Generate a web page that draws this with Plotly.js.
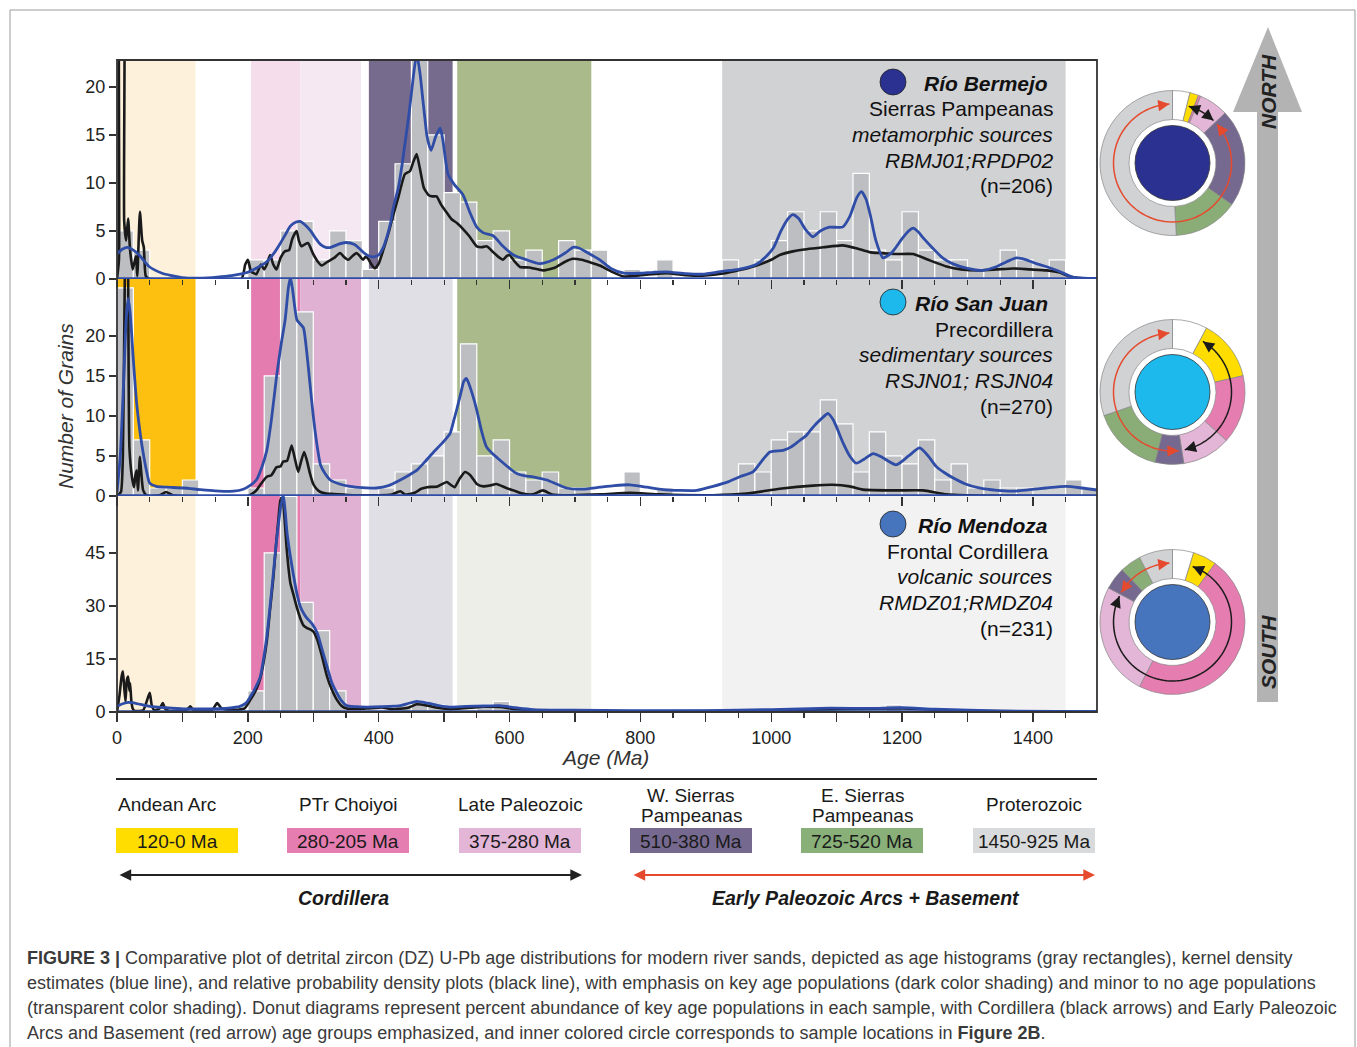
<!DOCTYPE html>
<html>
<head>
<meta charset="utf-8">
<script src="https://cdn.plot.ly/plotly-3.0.1.min.js"></script>
<style>
html,body{margin:0;padding:0;background:#ffffff;}
#chart{width:1357px;height:1047px;}
</style>
</head>
<body>
<div id="chart"></div>
<script>
// ================= DATA =================
const binWidth = 25;

// Age populations (Ma)
const groupNames = ['Andean Arc', 'PTr Choiyoi', 'Late Paleozoic', 'W. Sierras|Pampeanas', 'E. Sierras|Pampeanas', 'Proterozoic'];
const groupRanges = ['120-0 Ma', '280-205 Ma', '375-280 Ma', '510-380 Ma', '725-520 Ma', '1450-925 Ma'];
const bandStart = [0, 205, 280, 385, 520, 925];
const bandEnd = [120, 280, 373, 513, 725, 1450];
// 1 = key population (dark shading), 0 = minor (transparent shading)
const emphasis1 = [0, 0, 0, 1, 1, 1];
const emphasis2 = [1, 1, 1, 0, 1, 1];
const emphasis3 = [0, 1, 1, 0, 0, 0];

// Histograms: bin start age (Ma) and number of grains
const binStart1 = [0,25,200,225,250,275,300,325,350,375,400,425,450,475,500,525,550,575,600,625,675,700,725,775,825,925,975,1000,1025,1050,1075,1100,1125,1150,1175,1200,1225,1250,1275,1300,1325,1350,1375,1400,1425];
const count1    = [5,3,2,2,5,6,2,5,4,1,6,12,23,15,9,8,4,5,2,3,4,3,3,1,2,2,2,4,7,5,7,4,11,3,2,7,3,2,2,1,1,3,2,1,2];

const binStart2 = [0,25,50,75,100,200,225,250,275,300,325,350,400,425,450,475,500,525,550,575,600,625,650,675,700,775,825,950,975,1000,1025,1050,1075,1100,1125,1150,1175,1200,1225,1250,1275,1300,1325,1350,1375,1450,1475];
const count2    = [26,7,1,1,2,1,15,29,23,4,2,1,1,3,4,5,8,19,5,7,3,2,3,1,1,3,1,4,3,7,8,8,12,9,3,8,5,4,7,2,4,1,2,1,1,2,1];

const binStart3 = [200,225,250,275,300,325,425,450,475,550,575,1000,1075,1175];
const count3    = [6,45,61,31,23,6,2,3,2,2,3,1,1,2];

// Kernel density estimates (blue) [age, value]
const kde1 = [[0,2.6],[8,3.1],[16,3.3],[25,3.0],[34,2.5],[49,1.3],[69,0.6],[84,0.35],[100,0.15],[130,0.1],[153,0.2],[175,0.35],[188,0.5],[200,0.7],[215,1.2],[229,1.8],[240,2.7],[250,3.75],[258,4.7],[265,5.5],[273,5.9],[280,6.0],[288,5.6],[296,5.0],[304,4.2],[311,3.6],[319,3.3],[327,3.3],[338,3.6],[350,3.8],[363,3.6],[370,3.2],[378,2.7],[385,2.4],[392,2.3],[400,2.5],[407,3.3],[413,4.5],[418,5.8],[422,7.3],[430,9.5],[436,12],[441,14.5],[446,17],[452,20.5],[458,23.4],[463,21.5],[467,19],[471,16.5],[474,14.8],[480,13.4],[487,14.8],[494,15.7],[498,14.5],[502,12.5],[506,10.9],[516,9.8],[529,8.75],[539,7],[550,5.4],[560,4.8],[575,4.5],[590,3.4],[606,2.5],[626,2.0],[646,1.6],[667,2.0],[687,2.8],[697,3.3],[707,3.2],[720,2.7],[738,2.0],[755,1.1],[775,0.6],[800,0.6],[820,0.7],[840,0.75],[870,0.55],[895,0.5],[925,0.8],[950,1.0],[977,1.5],[990,2.2],[1003,3.2],[1015,5.0],[1025,6.2],[1033,6.7],[1042,6.3],[1052,5.2],[1064,4.4],[1075,5.0],[1089,5.4],[1109,5.4],[1120,6.5],[1131,8.5],[1138,9.1],[1145,8.3],[1152,6.5],[1160,4.0],[1171,2.2],[1185,2.8],[1200,4.2],[1210,5.0],[1217,5.3],[1225,4.9],[1232,4.3],[1247,3.2],[1262,2.2],[1277,1.6],[1300,1.1],[1323,0.9],[1345,1.3],[1360,1.8],[1375,2.2],[1390,2.0],[1405,1.6],[1420,1.3],[1440,0.8],[1461,0.2],[1498,0.05]];

const kde2 = [[0,0.5],[5,5],[10,14],[14,22],[17,24.7],[20,23],[25,17],[30,11.6],[36,7.5],[41,4.9],[46,2.8],[50,1.6],[60,1.2],[76,1.1],[102,1.0],[127,0.8],[150,0.65],[178,0.6],[193,0.85],[203,1.3],[213,2],[221,3.5],[229,5.7],[236,9.5],[244,15],[251,19],[257,22],[262,26],[265,27.3],[268,26],[275,22],[280,21.5],[285,21],[290,18],[295,14],[300,10],[306,6.2],[311,3.9],[318,2.8],[326,2.0],[340,1.5],[356,1.2],[375,1.05],[397,1.0],[415,1.3],[433,2.0],[446,2.6],[458,3.2],[471,4.3],[484,5.5],[497,6.6],[509,7.8],[515,9.5],[519,10.7],[526,13],[530,14.3],[534,14.7],[538,14],[544,12.5],[550,10.7],[557,8.2],[565,6.1],[575,5.2],[585,4.5],[598,3.6],[611,2.8],[624,2.5],[636,2.4],[647,2.2],[657,2.0],[672,1.5],[687,1.0],[712,0.85],[738,1.1],[760,1.3],[784,1.4],[810,1.1],[835,0.8],[860,0.7],[886,0.7],[911,1.2],[935,1.8],[952,2.4],[972,3.0],[985,4.3],[998,5.5],[1018,5.7],[1030,6.1],[1043,6.9],[1054,7.6],[1064,8.6],[1076,9.6],[1087,10.3],[1095,9.5],[1103,8.0],[1110,6.6],[1120,5.0],[1130,4.1],[1142,4.6],[1156,5.3],[1170,4.8],[1191,3.9],[1210,5.0],[1227,6.0],[1240,5.0],[1252,3.7],[1265,2.9],[1277,2.3],[1297,1.5],[1318,1.0],[1345,0.7],[1369,0.6],[1395,0.8],[1420,1.0],[1451,1.2],[1475,1.0],[1498,0.75]];

const kde3 = [[0,1.6],[10,2.4],[18,2.7],[30,2.4],[50,1.6],[75,1.2],[102,0.9],[140,0.9],[170,1.1],[188,1.6],[197,2.5],[204,4.4],[212,7],[219,10],[224,15],[229,21.4],[234,30],[239,39.3],[243,47],[247,53.5],[251,59],[254,61.5],[257,57],[260,50.6],[265,44],[270,38.4],[275,33.5],[280,29.9],[285,28],[290,26.6],[298,25],[306,22.4],[313,18],[321,12.9],[328,8.5],[336,5.4],[343,3.2],[351,1.8],[365,1.5],[382,1.4],[405,1.5],[433,1.8],[445,2.4],[458,3.0],[475,2.5],[490,1.9],[509,1.4],[534,1.6],[560,1.7],[585,1.8],[610,1.2],[636,0.7],[700,0.5],[780,0.4],[900,0.4],[1000,0.7],[1090,1.1],[1150,1.0],[1200,1.2],[1250,0.8],[1350,0.3],[1498,0.1]];

// Relative probability density plots (black) [age, value]
const pdp1 = [[0,0],[3,2],[6,40],[9,40],[11,6],[14,4],[17,6.3],[20,3],[24,1],[29,2.4],[31,0.3],[35,7],[38.5,4],[41,3.3],[44,0.3],[50,0],[190,0],[196,1.5],[200,2],[205,0.8],[213,0.5],[220,1.5],[225,1.0],[229,1.5],[234,2.5],[239,1.5],[244,1.0],[250,2.2],[257,2.9],[263,3.0],[268,4.2],[274.5,5],[278,4.0],[282,3.4],[287,3.6],[292,3.75],[300,2.6],[307,1.8],[313,1.4],[322,1.8],[332,2.2],[341,2.7],[347,2.3],[353.5,2.0],[360,2.4],[366,2.7],[371,2.4],[376,2.0],[380,2.3],[384,2.1],[389,1.5],[394,1.1],[400,1.6],[407,3],[415,4.8],[422,6.6],[430,8.5],[440,10.9],[448,11.25],[453,12.2],[458,13],[463,11.5],[469,9.5],[476,8.75],[482,8.6],[488.5,8.6],[495,7.8],[503,7.0],[511,6.25],[520,5.8],[529,5.2],[538,4.5],[550,3.4],[557,3.3],[565,3.4],[575,2.8],[585,2.2],[590,2.0],[596,2.4],[600,2.5],[608,1.8],[616,1.25],[630,1.2],[651.5,0.9],[670,1.2],[685,1.8],[697,2.1],[710,2.0],[725,1.7],[738,1.4],[755,0.8],[775,0.25],[800,0.4],[840,0.6],[870,0.4],[895,0.35],[930,0.6],[973,1.3],[1000,2.0],[1013,2.5],[1035,2.9],[1054,3.1],[1080,3.3],[1109,3.5],[1130,3.2],[1150,2.8],[1165,2.7],[1190,2.6],[1217,2.6],[1240,2.0],[1268,1.3],[1290,1.0],[1319,0.9],[1345,1.0],[1370,1.1],[1395,1.0],[1421,0.9],[1440,0.7],[1456,0.25],[1480,0.05],[1498,0]];

const pdp2 = [[0,0],[6,0.5],[9,5],[12,28],[15,40],[17,28],[19,6],[22.8,2.4],[26,1.1],[28,2.5],[30,3.2],[32,0.7],[35,4.9],[37,3],[40,0.7],[45,0.1],[50,0],[65,0.1],[75,0.5],[85,0.1],[200,0],[207,0.3],[213,0.7],[220,1.5],[229,2.4],[236,2.6],[244,3.6],[250,3.7],[254,4.3],[260,4.4],[264,5.5],[267,6.3],[271,5.0],[277,3.0],[281,4.2],[286,5.5],[290,4.5],[295,2.8],[300,1.5],[305,0.9],[311,0.5],[320,0.3],[331,0.25],[360,0.1],[400,0.1],[420,0.2],[433,0.6],[440,0.2],[455,0.4],[465,0.9],[474,1.1],[490,1.2],[504,1.75],[510,1.4],[516,1.1],[524,2.2],[532,3.0],[540,2.6],[550,1.5],[560,1.2],[570,1.3],[580,1.5],[595,1.0],[606,0.7],[620,0.3],[635,0.2],[651,0.7],[665,0.2],[690,0.1],[740,0.2],[784,0.4],[830,0.2],[911,0.1],[962,0.3],[1013,0.9],[1064,1.3],[1094,1.4],[1120,1.2],[1140,0.8],[1191,0.7],[1232,0.7],[1268,0.2],[1318,0.05],[1498,0]];

const pdp3 = [[0,0],[4,5],[7,10],[9,11.5],[11,7],[13,3],[15,9],[17,10],[19,6],[20,8.2],[22,3],[24,1],[27,0.3],[40,0.5],[50,5.4],[53,2],[57,0.5],[65,1],[70,2.5],[74,0.8],[80,0.3],[105,0.3],[112,1.6],[118,0.3],[145,0.5],[153,2.5],[160,1.0],[175,0.5],[195,1.0],[204,3.5],[212,6],[219,9.5],[224,14],[229,20],[234,29],[239,38],[243,47],[247,55],[250,60],[253,60.5],[256,55],[259,47],[262,41],[265,36.5],[270,33],[275,29.5],[280,26.6],[285,24.5],[290,23.8],[296,23.3],[300,22.8],[306,20.5],[313,16],[321,10.1],[328,6.5],[336,3.5],[343,1.8],[351,1.0],[365,0.9],[382,1.0],[405,1.3],[420,0.8],[445,1.2],[458,2.2],[475,1.8],[490,1.2],[509,0.8],[540,1.2],[560,1.5],[585,1.4],[610,0.8],[636,0.5],[700,0.3],[800,0.2],[1000,0.4],[1100,0.8],[1200,1.0],[1300,0.3],[1498,0]];

// Sample information
const sampleTitle = ['Río Bermejo', 'Río San Juan', 'Río Mendoza'];
const sampleRegion = ['Sierras Pampeanas', 'Precordillera', 'Frontal Cordillera'];
const sampleSource = ['metamorphic sources', 'sedimentary sources', 'volcanic sources'];
const sampleIds = ['RBMJ01;RPDP02', 'RSJN01; RSJN04', 'RMDZ01;RMDZ04'];
const sampleN = ['(n=206)', '(n=270)', '(n=231)'];

// Donut diagrams: share of each age population (degrees of the ring), in order
// [no key population, Andean Arc, PTr Choiyoi, Late Paleozoic, W. Sierras, E. Sierras, Proterozoic]
const donutLabels = ['Other', 'Andean Arc', 'PTr Choiyoi', 'Late Paleozoic', 'W. Sierras Pampeanas', 'E. Sierras Pampeanas', 'Proterozoic'];
const donut1 = [14, 7, 2, 23.5, 78.5, 52, 183];
const donut2 = [28, 49, 55, 39, 23, 57, 109];
const donut3 = [17, 19, 171, 91, 18, 17, 27];
// Arrow arcs (start/end angle, degrees clockwise from north): Cordillera (black), Early Paleozoic + Basement (red)
const cordilleraArc = [[16, 44], [31, 168], [20, 296]];
const basementArc = [[49, 357], [174, 357], [300, 357]];

// Axis ticks
const xTickVals = [0,100,200,300,400,500,600,700,800,900,1000,1100,1200,1300,1400];
const xTickText = ['0','','200','','400','','600','','800','','1000','','1200','','1400'];
const yTicks1 = [0,5,10,15,20];
const yTicks2 = [0,5,10,15,20];
const yTicks3 = [0,15,30,45];

// ================= STYLE / LAYOUT =================
const W = 1357, H = 1047;
const px = v => v / W;
const py = v => 1 - v / H;
const FONT = 'Liberation Sans, Arial, Helvetica, sans-serif';
const BLUE = '#2F4DA6';
const RED = '#E64A2E';
const darkBand = ['#FDC010', '#E47CB0', '#E1B1D4', '#766A8D', '#AABA8A', '#D1D2D4'];
const lightBand = ['#FEF1DC', '#F5DDEB', '#F5E8F3', '#E1DFE6', '#EDEEE7', '#F2F2F3'];
const legendColors = ['#FFDD00', '#E67DB1', '#E3B5D6', '#76698F', '#88B078', '#D9DADB'];
const donutColors = ['#FFFFFF', '#FFDD00', '#E67DB1', '#E3B5D6', '#76698F', '#8AAD77', '#D1D2D4'];
const centerColors = ['#2B3190', '#1DB8EC', '#4775BD'];

const plotL = 117, plotR = 1097;
const panelTop = [60, 279, 496];
const panelBot = [279, 496, 712];
const yRanges = [[0, 22.8], [0, 27.1], [0, 61.1]];
const xNames = ['x2', 'x3', 'x'];
const yNames = ['y', 'y2', 'y3'];

const traces = [];
const shapes = [];
const annotations = [];

const binsS = [binStart1, binStart2, binStart3];
const binsC = [count1, count2, count3];
const kdes = [kde1, kde2, kde3];
const pdps = [pdp1, pdp2, pdp3];
const emph = [emphasis1, emphasis2, emphasis3];

for (let p = 0; p < 3; p++) {
  for (let g = 0; g < bandStart.length; g++) {
    shapes.push({type:'rect', xref:'x', yref: yNames[p] + ' domain', x0: bandStart[g], x1: bandEnd[g], y0: 0, y1: 1,
      fillcolor: emph[p][g] ? darkBand[g] : lightBand[g], line:{width:0}, layer:'below'});
  }
  traces.push({type:'bar', x: binsS[p].map(s => s + binWidth/2), y: binsC[p], width: binWidth,
    xaxis: xNames[p], yaxis: yNames[p], marker:{color:'#BDBEC1', line:{color:'#FFFFFF', width:1.2}}, hoverinfo:'skip'});
  traces.push({type:'scatter', mode:'lines', x: pdps[p].map(d => d[0]), y: pdps[p].map(d => d[1]),
    xaxis: xNames[p], yaxis: yNames[p], line:{color:'#1a1a1a', width:2.6, shape:'spline', smoothing:0.5}, hoverinfo:'skip'});
  traces.push({type:'scatter', mode:'lines', x: kdes[p].map(d => d[0]), y: kdes[p].map(d => d[1]),
    xaxis: xNames[p], yaxis: yNames[p], line:{color: BLUE, width:2.8, shape:'spline', smoothing:0.6}, hoverinfo:'skip'});
  shapes.push({type:'line', xref:'paper', yref: yNames[p], x0: px(plotL), x1: px(plotR), y0: 0, y1: 0,
    line:{color: BLUE, width: 3.5}, layer:'above'});
}

// Frame
shapes.push({type:'rect', xref:'paper', yref:'paper', x0: px(plotL), x1: px(plotR), y0: py(712), y1: py(60),
  line:{color:'#333333', width:1.8}, fillcolor:'rgba(0,0,0,0)', layer:'above'});
// Figure border
shapes.push({type:'rect', xref:'paper', yref:'paper', x0: px(10), x1: px(1355), y0: py(1060), y1: py(10),
  line:{color:'#9a9a9a', width:1}, fillcolor:'rgba(0,0,0,0)', layer:'below'});

function txt(x, y, text, opts) {
  const base = {xref:'paper', yref:'paper', x: px(x), y: py(y), text: text, showarrow:false,
    xanchor:'center', yanchor:'middle', font:{family:FONT, size:19, color:'#1a1a1a'}};
  return Object.assign(base, opts || {});
}

// Sample text blocks
const blockTop = [83, 303, 525];
for (let p = 0; p < 3; p++) {
  const y0 = blockTop[p];
  shapes.push({type:'circle', xref:'paper', yref:'paper', x0: px(880), x1: px(906), y0: py(y0 + 12), y1: py(y0 - 14),
    fillcolor: centerColors[p], line:{color:'#222', width:0.8}, layer:'above'});
  annotations.push(txt(1050, y0, '<b><i>' + sampleTitle[p] + '</i></b>', {xanchor:'right', font:{family:FONT, size:21, color:'#111'}}));
  annotations.push(txt(p === 2 ? 1050 : 1055, y0 + 26, sampleRegion[p], {xanchor:'right', font:{family:FONT, size:21, color:'#111'}}));
  annotations.push(txt(1055, y0 + 51, '<i>' + sampleSource[p] + '</i>', {xanchor:'right', font:{family:FONT, size:21, color:'#111'}}));
  annotations.push(txt(1055, y0 + 77, '<i>' + sampleIds[p] + '</i>', {xanchor:'right', font:{family:FONT, size:21, color:'#111'}}));
  annotations.push(txt(1055, y0 + 103, sampleN[p], {xanchor:'right', font:{family:FONT, size:21, color:'#111'}}));
}

// Axis titles
annotations.push(txt(605, 757, '<i>Age (Ma)</i>', {font:{family:FONT, size:21, color:'#333'}}));
annotations.push(txt(65, 406, '<i>Number of Grains</i>', {textangle:-90, font:{family:FONT, size:21, color:'#333'}}));

// Donuts
const donutCY = [163, 392, 622];
const donutCX = 1172.5;
const donutVals = [donut1, donut2, donut3];
const R = 72.5;
const arcR = 59;
function pt(cy, r, a) { const t = a * Math.PI / 180; return [donutCX + r * Math.sin(t), cy - r * Math.cos(t)]; }
function arcPath(cy, a0, a1) {
  let s = '';
  const n = 80;
  for (let i = 0; i <= n; i++) {
    const q = pt(cy, arcR, a0 + (a1 - a0) * i / n);
    s += (i ? 'L' : 'M') + px(q[0]).toFixed(5) + ',' + py(q[1]).toFixed(5);
  }
  return s;
}
function arrowHeads(cy, a0, a1, color) {
  const d = a1 > a0 ? 1 : -1;
  const ends = [[a1, a1 - d * 9], [a0, a0 + d * 9]];
  ends.forEach(e => {
    const h = pt(cy, arcR, e[0]);
    const t = pt(cy, arcR, e[1]);
    annotations.push({xref:'paper', yref:'paper', axref:'paper', ayref:'paper', x: px(h[0]), y: py(h[1]), ax: px(t[0]), ay: py(t[1]),
      text:'', showarrow:true, arrowhead:2, arrowsize:1.5, arrowwidth:1.5, arrowcolor: color, standoff:0, startstandoff:0});
  });
}
for (let p = 0; p < 3; p++) {
  const cy = donutCY[p];
  traces.push({type:'pie', values: donutVals[p], labels: donutLabels, sort:false, direction:'clockwise', rotation:0,
    hole:0.6, domain:{x:[px(donutCX - R), px(donutCX + R)], y:[py(cy + R), py(cy - R)]},
    marker:{colors: donutColors, line:{color:'#858585', width:0.7}}, textinfo:'none', hoverinfo:'skip', showlegend:false});
  shapes.push({type:'circle', xref:'paper', yref:'paper', x0: px(donutCX - 37.5), x1: px(donutCX + 37.5), y0: py(cy + 37.5), y1: py(cy - 37.5),
    fillcolor: centerColors[p], line:{color:'#333', width:0.8}, layer:'above'});
  const arcs = [[cordilleraArc[p], '#1a1a1a'], [basementArc[p], RED]];
  arcs.forEach(a => {
    shapes.push({type:'path', xref:'paper', yref:'paper', path: arcPath(cy, a[0][0], a[0][1]), line:{color: a[1], width:1.5}, layer:'above'});
    arrowHeads(cy, a[0][0], a[0][1], a[1]);
  });
}

// North-South arrow
const arrowPath = 'M' + px(1268) + ',' + py(27) + 'L' + px(1302) + ',' + py(112) + 'L' + px(1278) + ',' + py(112) + 'L' + px(1278) + ',' + py(702) +
  'L' + px(1257) + ',' + py(702) + 'L' + px(1257) + ',' + py(112) + 'L' + px(1233) + ',' + py(112) + 'Z';
shapes.push({type:'path', xref:'paper', yref:'paper', path: arrowPath, fillcolor:'#B3B3B3', line:{width:0}, layer:'below'});
annotations.push(txt(1268, 92, '<b><i>NORTH</i></b>', {textangle:-90, font:{family:FONT, size:21, color:'#222'}}));
annotations.push(txt(1268, 652, '<b><i>SOUTH</i></b>', {textangle:-90, font:{family:FONT, size:21, color:'#222'}}));

// Bottom legend
shapes.push({type:'line', xref:'paper', yref:'paper', x0: px(116), x1: px(1097), y0: py(779), y1: py(779), line:{color:'#222', width:2}});
const boxX = [116, 287, 459, 630, 801, 973];
const boxW = 122;
for (let g = 0; g < groupNames.length; g++) {
  shapes.push({type:'rect', xref:'paper', yref:'paper', x0: px(boxX[g]), x1: px(boxX[g] + boxW), y0: py(853), y1: py(828),
    fillcolor: legendColors[g], line:{width:0}});
  annotations.push(txt(boxX[g] + boxW / 2, 841, groupRanges[g], {font:{family:FONT, size:19, color:'#1a1a1a'}}));
  const parts = groupNames[g].split('|');
  if (parts.length === 1) {
    if (g === 0) annotations.push(txt(boxX[g], 804, parts[0], {xanchor:'left'}));
    else annotations.push(txt(boxX[g] + boxW / 2, 804, parts[0]));
  } else {
    annotations.push(txt(boxX[g] + boxW / 2, 795, parts[0]));
    annotations.push(txt(boxX[g] + boxW / 2, 815, parts[1]));
  }
}
annotations.push({xref:'paper', yref:'paper', axref:'paper', ayref:'paper', x: px(582), y: py(875), ax: px(118), ay: py(875),
  text:'', showarrow:true, arrowhead:2, arrowside:'end+start', arrowsize:1.3, arrowwidth:1.8, arrowcolor:'#222', standoff:0, startstandoff:0});
annotations.push({xref:'paper', yref:'paper', axref:'paper', ayref:'paper', x: px(1095), y: py(875), ax: px(632), ay: py(875),
  text:'', showarrow:true, arrowhead:2, arrowside:'end+start', arrowsize:1.3, arrowwidth:1.8, arrowcolor: RED, standoff:0, startstandoff:0});
annotations.push(txt(343, 898, '<b><i>Cordillera</i></b>', {font:{family:FONT, size:19.5, color:'#1a1a1a'}}));
annotations.push(txt(866, 898, '<b><i>Early Paleozoic Arcs + Basement</i></b>', {font:{family:FONT, size:19.5, color:'#1a1a1a'}}));

// Caption
const captionLines = [
  '<b>FIGURE 3 |</b> Comparative plot of detrital zircon (DZ) U-Pb age distributions for modern river sands, depicted as age histograms (gray rectangles), kernel density',
  'estimates (blue line), and relative probability density plots (black line), with emphasis on key age populations (dark color shading) and minor to no age populations',
  '(transparent color shading). Donut diagrams represent percent abundance of key age populations in each sample, with Cordillera (black arrows) and Early Paleozoic',
  'Arcs and Basement (red arrow) age groups emphasized, and inner colored circle corresponds to sample locations in <b>Figure 2B</b>.'
];
captionLines.forEach((l, i) => {
  annotations.push(txt(25, 958 + 25 * i, l, {xanchor:'left', font:{family:FONT, size:18, color:'#3a3a3a'}}));
});

const xbase = {domain:[px(plotL), px(plotR)], range:[0, 1498], tickmode:'array', tickvals: xTickVals, ticktext: xTickText,
  ticks:'outside', ticklen:9, tickwidth:1.4, tickcolor:'#333',
  minor:{tickmode:'linear', tick0:0, dtick:50, ticks:'outside', ticklen:5, tickwidth:1.2, tickcolor:'#333'},
  showgrid:false, zeroline:false, showline:false, fixedrange:true, tickfont:{family:FONT, size:18, color:'#222'}};
function ybase(i, ticks) {
  return {domain:[py(panelBot[i]), py(panelTop[i])], range: yRanges[i], tickmode:'array', tickvals: ticks,
    ticks:'outside', ticklen:7, tickwidth:1.4, tickcolor:'#333', showgrid:false, zeroline:false, showline:false,
    fixedrange:true, anchor:'x', tickfont:{family:FONT, size:18, color:'#222'}};
}

const layout = {
  width: W, height: H, margin:{l:0, r:0, t:0, b:0, pad:0},
  paper_bgcolor:'#ffffff', plot_bgcolor:'rgba(0,0,0,0)',
  showlegend:false, hovermode:false, barmode:'overlay', bargap:0,
  font:{family:FONT, color:'#222'},
  xaxis: Object.assign({}, xbase, {anchor:'y3', showticklabels:true}),
  xaxis2: Object.assign({}, xbase, {anchor:'y', matches:'x', showticklabels:false}),
  xaxis3: Object.assign({}, xbase, {anchor:'y2', matches:'x', showticklabels:false}),
  yaxis: ybase(0, yTicks1),
  yaxis2: ybase(1, yTicks2),
  yaxis3: ybase(2, yTicks3),
  shapes: shapes,
  annotations: annotations
};

Plotly.newPlot('chart', traces, layout, {staticPlot:true, displayModeBar:false});
</script>
</body>
</html>
